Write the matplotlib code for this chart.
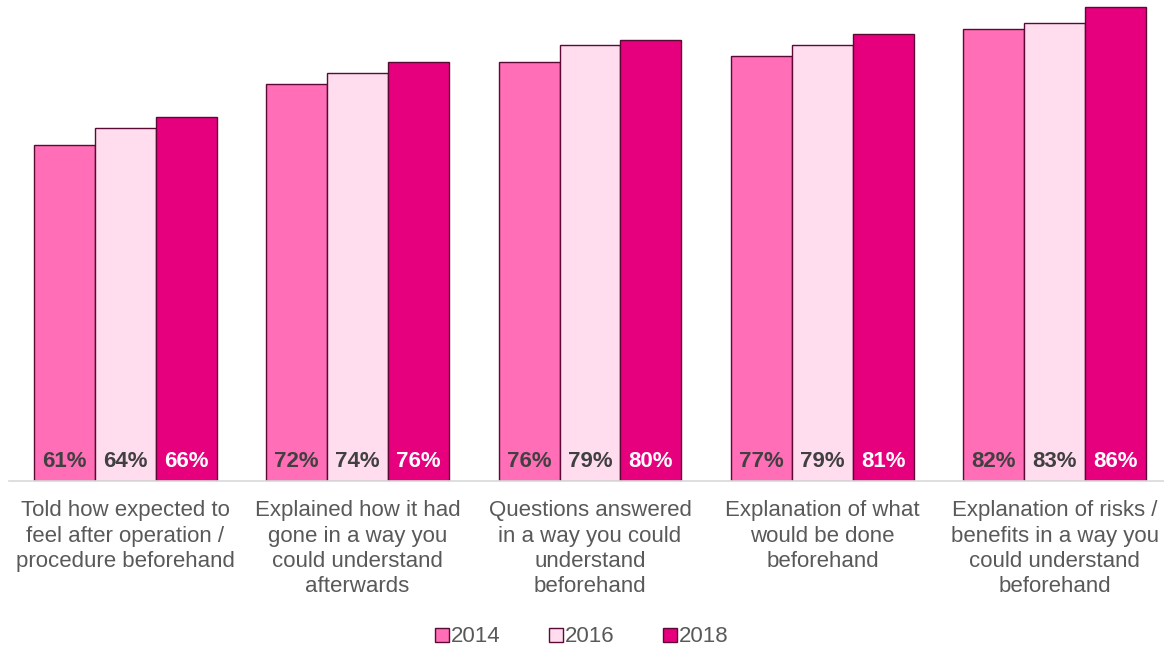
import numpy as np
import matplotlib.pyplot as plt
from matplotlib.patches import Patch

plt.rcParams["font.family"] = ["Liberation Sans", "DejaVu Sans"]

categories = [
    "Told how expected to\nfeel after operation /\nprocedure beforehand",
    "Explained how it had\ngone in a way you\ncould understand\nafterwards",
    "Questions answered\nin a way you could\nunderstand\nbeforehand",
    "Explanation of what\nwould be done\nbeforehand",
    "Explanation of risks /\nbenefits in a way you\ncould understand\nbeforehand",
]
years = ["2014", "2016", "2018"]
v2014 = [61, 72, 76, 77, 82]
v2016 = [64, 74, 79, 79, 83]
v2018 = [66, 76, 80, 81, 86]

colors = ["#FF6EB6", "#FFDDEF", "#E6007E"]
text_colors = ["#404040", "#404040", "#FFFFFF"]
edge = "#5A0A35"

fig = plt.figure(figsize=(11.64, 6.47), dpi=100)
ax = fig.add_axes([9 / 1164, 1 - 481 / 647, 1155 / 1164, 481 / 647])

x = np.arange(len(categories))
w = 0.262
for i, vals in enumerate([v2014, v2016, v2018]):
    pos = x + (i - 1) * w
    ax.bar(pos, vals, width=w, color=colors[i], edgecolor=edge, linewidth=1.0)
    for p, v in zip(pos, vals):
        ax.text(p, 3.5, f"{v}%", ha="center", va="center", fontsize=16,
                fontweight="bold", color=text_colors[i])

ax.set_ylim(0, 87.2)
ax.set_xlim(-0.5, 4.5 - 7 / 232.5)
ax.set_yticks([])
ax.set_xticks(x)
ax.set_xticklabels(categories, fontsize=16, color="#595959", linespacing=1.27)
ax.tick_params(axis="x", length=0, pad=14)
for s in ["top", "right", "left"]:
    ax.spines[s].set_visible(False)
ax.spines["bottom"].set_color("#D9D9D9")
ax.spines["bottom"].set_linewidth(1.2)

handles = [Patch(facecolor=c, edgecolor=edge, label=y) for c, y in zip(colors, years)]
fig.legend(handles=handles, loc="center", bbox_to_anchor=(0.5, 1 - 637 / 647),
           ncol=3, frameon=False, fontsize=16, handlelength=0.6, handleheight=0.6,
           handletextpad=0.1, columnspacing=2.2, labelcolor="#595959")

fig.savefig("out.png", dpi=100)
